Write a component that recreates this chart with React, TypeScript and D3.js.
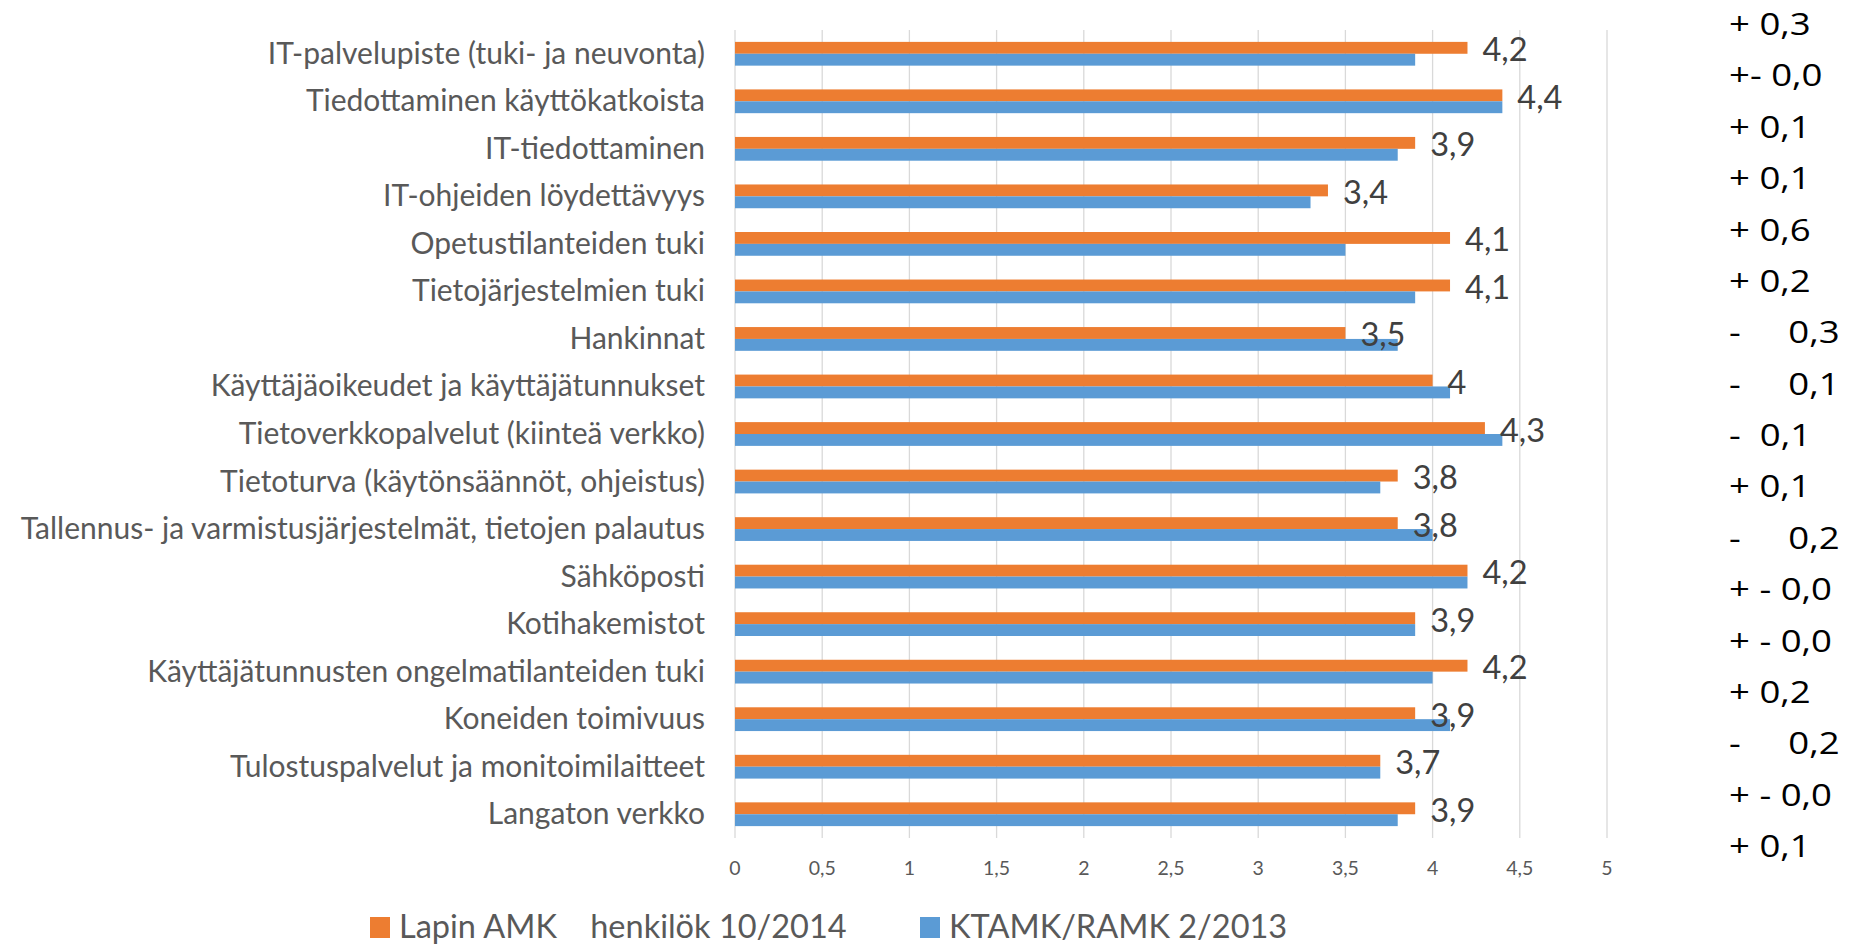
import * as d3 from "d3";

const categories = [
  "IT-palvelupiste (tuki- ja neuvonta)",
  "Tiedottaminen käyttökatkoista",
  "IT-tiedottaminen",
  "IT-ohjeiden löydettävyys",
  "Opetustilanteiden tuki",
  "Tietojärjestelmien tuki",
  "Hankinnat",
  "Käyttäjäoikeudet ja käyttäjätunnukset",
  "Tietoverkkopalvelut (kiinteä verkko)",
  "Tietoturva (käytönsäännöt, ohjeistus)",
  "Tallennus- ja varmistusjärjestelmät, tietojen palautus",
  "Sähköposti",
  "Kotihakemistot",
  "Käyttäjätunnusten ongelmatilanteiden tuki",
  "Koneiden toimivuus",
  "Tulostuspalvelut ja monitoimilaitteet",
  "Langaton verkko",
];

const lapin2014 = [4.2, 4.4, 3.9, 3.4, 4.1, 4.1, 3.5, 4, 4.3, 3.8, 3.8, 4.2, 3.9, 4.2, 3.9, 3.7, 3.9];
const ktamk2013 = [3.9, 4.4, 3.8, 3.3, 3.5, 3.9, 3.8, 4.1, 4.4, 3.7, 4.0, 4.2, 3.9, 4.0, 4.1, 3.7, 3.8];

// muutokset oikeassa reunassa
const changes = [
  "+ 0,3", "+- 0,0", "+ 0,1", "+ 0,1", "+ 0,6", "+ 0,2",
  "-     0,3", "-     0,1", "-  0,1", "+ 0,1", "-     0,2",
  "+ - 0,0", "+ - 0,0", "+ 0,2", "-     0,2", "+ - 0,0", "+ 0,1",
];

const xTicks = [0, 0.5, 1, 1.5, 2, 2.5, 3, 3.5, 4, 4.5, 5];
const seriesNames = ["Lapin AMK    henkilök 10/2014", "KTAMK/RAMK 2/2013"];
const colors = ["#ED7D31", "#5B9BD5"];

const W = 1852;
const H = 946;
const fmt = (v: number) => String(v).replace(".", ",");

export default function App() {
  const x = d3.scaleLinear().domain([0, 5]).range([735, 1607]);
  const y = d3.scaleBand<string>()
    .domain(categories)
    .range([30, 838])
    .paddingInner(0.5)
    .paddingOuter(0.25);
  const bw = y.bandwidth();
  const ann = d3.scalePoint<number>()
    .domain(d3.range(changes.length))
    .range([35, 857]);

  const font = "Lato, 'Open Sans', sans-serif";

  return (
    <svg width={W} height={H} style={{ position: "absolute", left: 0, top: 0, background: "#fff" }}>
      {/* grid */}
      {xTicks.map((t) => (
        <line key={t} x1={x(t)} x2={x(t)} y1={30} y2={838} stroke="#d9d9d9" strokeWidth={1.3} />
      ))}
      {xTicks.map((t) => (
        <text key={"t" + t} x={x(t)} y={875} textAnchor="middle" fontFamily={font} fontSize={19.5} fill="#595959">
          {fmt(t)}
        </text>
      ))}

      {categories.map((c, i) => {
        const y0 = y(c)!;
        const cy = y0 + bw / 2;
        return (
          <g key={c}>
            <rect x={x(0)} y={y0} width={x(lapin2014[i]) - x(0)} height={bw / 2} fill={colors[0]} />
            <rect x={x(0)} y={y0 + bw / 2} width={x(ktamk2013[i]) - x(0)} height={bw / 2} fill={colors[1]} />
            <text x={705} y={cy + 10} textAnchor="end" fontFamily={font} fontSize={30} fill="#595959">
              {c}
            </text>
            <text x={x(lapin2014[i]) + 15} y={cy + 7.5} fontFamily={font} fontSize={32.5} fill="#404040">
              {fmt(lapin2014[i])}
            </text>
          </g>
        );
      })}

      {/* right side changes */}
      {changes.map((s, i) => (
        <g key={"c" + i} transform={`translate(1729,${ann(i)}) scale(1.18,1)`}>
          <text x={0} y={0} fontFamily="'Open Sans', sans-serif" fontSize={31} fill="#000" style={{ whiteSpace: "pre" }}>
            {s}
          </text>
        </g>
      ))}

      {/* legend */}
      {seriesNames.map((n, i) => {
        const lx = i === 0 ? 370 : 920;
        return (
          <g key={n}>
            <rect x={lx} y={917} width={20} height={21} fill={colors[i]} />
            <text x={lx + 29} y={938} fontFamily={font} fontSize={32.5} fill="#595959" style={{ whiteSpace: "pre" }}>
              {n}
            </text>
          </g>
        );
      })}
    </svg>
  );
}
